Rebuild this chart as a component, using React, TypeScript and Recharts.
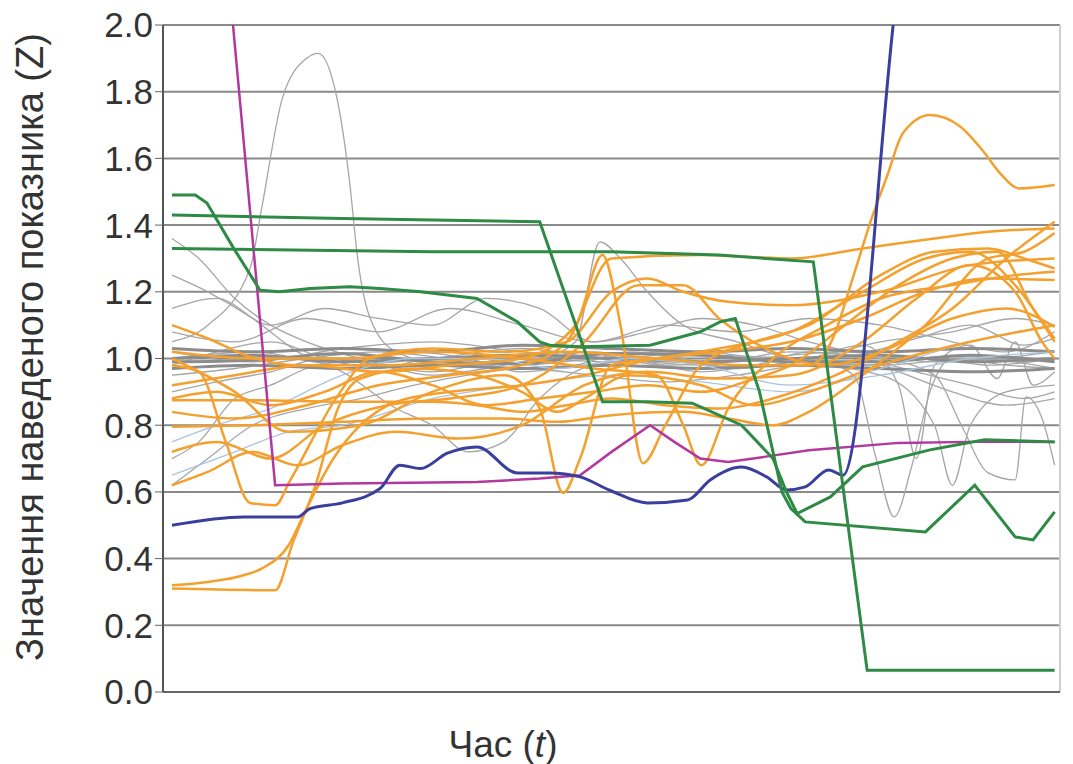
import { CartesianGrid, Label, Line, LineChart, ReferenceLine, XAxis, YAxis } from "recharts";

type Pt = [number, number];

// t is the time position (0..100 across the plot), z the reduced index value
const yTicks = [0, 0.2, 0.4, 0.6, 0.8, 1.0, 1.2, 1.4, 1.6, 1.8, 2.0];

const green1: Pt[] = [[1, 1.49], [3.6, 1.49], [4.9, 1.466], [7.8, 1.334], [10.8, 1.205], [13, 1.2], [16.4, 1.21], [20.8, 1.215], [24.2, 1.21], [28.7, 1.2], [35, 1.18], [39.5, 1.11], [42, 1.05], [43.1, 1.04], [46.5, 1.035], [54.3, 1.04], [59.9, 1.08], [62.1, 1.11], [63.8, 1.12], [66.5, 0.9], [69, 0.6], [70, 0.55], [71.6, 0.51], [85, 0.48], [90.5, 0.62], [95, 0.465], [97, 0.456], [99.4, 0.54]];
const green2: Pt[] = [[1, 1.43], [20, 1.42], [42, 1.41], [49, 0.87], [54, 0.87], [59, 0.866], [64.5, 0.8], [68, 0.7], [69.5, 0.6], [70.7, 0.535], [74.4, 0.585], [78, 0.675], [85.5, 0.726], [91.6, 0.756], [99.4, 0.75]];
const green3: Pt[] = [[1, 1.33], [30, 1.32], [50, 1.32], [62, 1.31], [72.5, 1.29], [78.5, 0.065], [99.4, 0.065]];
const blue: Pt[] = [[1, 0.5], [9, 0.525], [15, 0.525], [16.4, 0.55], [20, 0.567], [24.2, 0.61], [26.4, 0.68], [28.7, 0.67], [31.7, 0.716], [35, 0.735], [39.5, 0.657], [43.1, 0.657], [46.5, 0.645], [49.8, 0.605], [54, 0.567], [58.5, 0.576], [61, 0.636], [64.5, 0.675], [67.3, 0.645], [69.5, 0.606], [71.6, 0.615], [74.2, 0.666], [75.8, 0.65], [81.4, 2.0], [83, 2.4]];
const magenta: Pt[] = [[1, 4.0], [12.5, 0.62], [20, 0.625], [35, 0.63], [42, 0.64], [46.5, 0.65], [50, 0.72], [54.3, 0.8], [57, 0.75], [59.9, 0.7], [63, 0.69], [67, 0.705], [72, 0.725], [82, 0.747], [90, 0.75], [99.4, 0.75]];

const orange1: Pt[] = [[1, 0.32], [5, 0.33], [9, 0.35], [11, 0.37], [14, 0.44], [16, 0.55], [19, 0.7], [22, 0.8], [26, 0.87], [32, 0.9], [40, 0.92], [47, 0.95], [55, 1.0], [62, 1.02], [70, 1.05], [78, 1.12], [85, 1.2], [92, 1.24], [99.4, 1.235]];
const orange2: Pt[] = [[1, 0.31], [12.5, 0.305], [14.5, 0.45], [17, 0.62], [19.5, 0.85], [22, 0.94], [28, 0.97], [35, 0.95], [40, 0.9], [44, 0.84], [47, 0.88], [52, 0.95], [60, 0.92], [66, 0.86], [72, 0.9], [80, 0.98], [90, 1.05], [99.4, 1.1]];
const orange3: Pt[] = [[1, 0.98], [4, 0.96], [7, 0.75], [9.7, 0.567], [12.5, 0.56], [14.2, 0.636], [19.4, 0.885], [23, 1.0], [30, 1.03], [38, 1.02], [45, 1.05], [50, 1.2], [54, 1.24], [58, 1.2], [63, 1.17], [70, 1.16], [80, 1.2], [90, 1.28], [99.4, 1.3]];
const orange4: Pt[] = [[1, 1.1], [5, 1.06], [9.7, 1.005], [15, 0.98], [25, 0.98], [35, 1.0], [45, 1.02], [55, 1.0], [65, 0.98], [72, 0.98], [74.5, 1.05], [77, 1.25], [79, 1.42], [80.7, 1.545], [82.5, 1.676], [85.5, 1.73], [88.9, 1.695], [91.6, 1.616], [93.3, 1.556], [95.5, 1.51], [99.4, 1.52]];
const orange5: Pt[] = [[1, 0.875], [10, 0.875], [20, 0.87], [30, 0.87], [35, 0.86], [40, 0.84], [45, 0.86], [50, 0.88], [56, 0.86], [62, 0.85], [68, 0.88], [75, 0.95], [82, 1.05], [88, 1.15], [94, 1.3], [99.4, 1.41]];
const orange6: Pt[] = [[1, 0.795], [10, 0.8], [20, 0.81], [30, 0.82], [38, 0.82], [44, 0.81], [50, 0.83], [58, 0.84], [63, 0.82], [68, 0.8], [72, 0.84], [78, 0.95], [85, 1.1], [92, 1.3], [96, 1.32], [99.4, 1.376]];
const orange7: Pt[] = [[1, 1.0], [8, 0.9], [14, 0.78], [22, 0.8], [30, 0.9], [38, 0.95], [42, 0.85], [44.6, 0.597], [46.5, 0.7], [50, 0.98], [55, 1.0], [62, 1.03], [70, 1.08], [78, 1.2], [85, 1.3], [90, 1.32], [95, 1.22], [99.4, 1.05]];
const orange8: Pt[] = [[1, 0.92], [8, 0.95], [16, 0.98], [24, 0.96], [32, 0.98], [40, 1.0], [46, 1.1], [49, 1.31], [51, 1.1], [53.5, 0.686], [56, 0.8], [60, 0.98], [66, 1.05], [72, 1.1], [80, 1.25], [86, 1.32], [92, 1.33], [96, 1.3], [99.4, 1.27]];
const orange9: Pt[] = [[1, 0.84], [8, 0.82], [16, 0.86], [24, 0.92], [32, 0.95], [40, 0.98], [45, 1.05], [50, 1.3], [60, 1.31], [70, 1.3], [78, 1.33], [86, 1.36], [92, 1.38], [99.4, 1.39]];
const orange10: Pt[] = [[1, 0.72], [6, 0.75], [12, 0.7], [18, 0.8], [25, 0.86], [32, 0.88], [40, 0.92], [47, 1.05], [53, 1.22], [58, 1.22], [62, 1.12], [68, 1.02], [74, 0.98], [80, 1.02], [88, 1.12], [94, 1.15], [99.4, 1.095]];
const orange11: Pt[] = [[1, 0.62], [5, 0.66], [10, 0.72], [15, 0.68], [20, 0.74], [26, 0.78], [33, 0.76], [40, 0.8], [47, 0.92], [54, 0.96], [62, 0.94], [70, 0.95], [78, 1.05], [84, 1.18], [90, 1.28], [95, 1.2], [98, 1.05], [99.4, 1.0]];
const orange12: Pt[] = [[1, 1.02], [10, 1.0], [20, 1.0], [30, 1.02], [40, 1.0], [48, 0.97], [55, 0.95], [58, 0.8], [60, 0.68], [63, 0.85], [68, 1.0], [74, 1.1], [80, 1.18], [88, 1.22], [95, 1.25], [99.4, 1.26]];
const orange13: Pt[] = [[1, 0.88], [6, 0.9], [12, 0.86], [18, 0.9], [24, 0.96], [30, 0.92], [36, 0.86], [42, 0.88], [48, 0.9], [54, 0.92], [60, 0.9], [66, 0.94], [70, 0.98], [76, 1.1], [82, 1.22], [88, 1.3], [93, 1.32], [97, 1.15], [99.4, 1.06]];

const gray1: Pt[] = [[1, 1.05], [5, 1.1], [9.7, 1.27], [11, 1.45], [13.3, 1.78], [16, 1.9], [17.3, 1.915], [19.4, 1.78], [20.8, 1.53], [21.7, 1.3], [23.1, 1.12], [26, 1.02], [32, 0.98], [40, 1.0], [50, 0.99], [60, 1.01], [70, 1.0], [80, 0.98], [90, 1.0], [99.4, 0.97]];
const gray2: Pt[] = [[1, 0.98], [6, 1.02], [12, 1.05], [18, 1.0], [24, 0.97], [30, 1.0], [36, 0.98], [42, 1.0], [46, 1.05], [48.7, 1.35], [51, 1.3], [54, 1.2], [58, 1.1], [64, 1.05], [70, 1.0], [78, 0.98], [86, 1.0], [92, 0.98], [99.4, 1.0]];
const gray3: Pt[] = [[1, 1.36], [4, 1.3], [8, 1.18], [12, 1.1], [16, 1.05], [22, 1.0], [30, 0.96], [38, 1.0], [46, 1.02], [56, 0.98], [66, 1.0], [76, 1.02], [86, 0.99], [99.4, 1.02]];
const gray4: Pt[] = [[1, 1.25], [5, 1.2], [10, 1.12], [15, 1.02], [20, 0.96], [26, 0.85], [30, 0.8], [34, 0.72], [38, 0.75], [42, 0.88], [48, 0.98], [56, 1.0], [64, 0.97], [72, 1.0], [80, 1.05], [88, 1.08], [95, 1.12], [99.4, 1.1]];
const gray5: Pt[] = [[1, 0.95], [8, 0.97], [16, 1.0], [24, 1.02], [32, 1.0], [40, 0.98], [48, 1.0], [56, 1.02], [64, 1.0], [72, 1.0], [77, 0.95], [79.5, 0.7], [81.5, 0.525], [83.5, 0.68], [85.5, 0.9], [88, 1.0], [94, 0.98], [99.4, 0.97]];
const gray6: Pt[] = [[1, 1.02], [10, 0.99], [20, 1.03], [30, 1.05], [40, 1.02], [50, 1.0], [60, 0.98], [70, 1.02], [80, 1.0], [86, 0.95], [89, 0.8], [92, 0.657], [95, 0.636], [96.2, 0.885], [98, 0.82], [99.4, 0.68]];
const gray7: Pt[] = [[1, 1.15], [6, 1.18], [12, 1.1], [18, 1.15], [24, 1.12], [30, 1.1], [36, 1.18], [42, 1.15], [48, 1.05], [54, 1.08], [60, 1.12], [66, 1.1], [72, 1.05], [78, 1.02], [84, 1.06], [90, 1.1], [96, 1.04], [99.4, 1.06]];
const gray8: Pt[] = [[1, 0.9], [6, 0.93], [12, 0.96], [18, 1.0], [24, 0.98], [30, 0.95], [36, 0.97], [42, 1.0], [48, 1.02], [54, 0.99], [60, 0.96], [66, 0.98], [72, 1.02], [78, 1.0], [84, 0.96], [90, 0.92], [96, 0.88], [99.4, 0.9]];
const gray9: Pt[] = [[1, 0.7], [4, 0.75], [8, 0.88], [12, 0.92], [16, 0.97], [22, 1.0], [28, 1.02], [34, 1.0], [40, 0.96], [46, 0.98], [52, 1.02], [58, 1.0], [64, 0.97], [70, 0.99], [76, 1.01], [82, 0.96], [88, 0.9], [94, 0.86], [99.4, 0.88]];
const gray10: Pt[] = [[1, 1.0], [10, 1.02], [20, 0.98], [30, 1.0], [40, 1.03], [50, 1.0], [60, 1.02], [70, 0.99], [78, 1.04], [82, 0.92], [84, 0.7], [86, 0.98], [90, 1.04], [93, 0.94], [95, 1.05], [97, 0.92], [99.4, 0.96]];
const gray11: Pt[] = [[1, 1.08], [8, 1.05], [16, 1.12], [24, 1.08], [32, 1.15], [40, 1.1], [48, 1.05], [56, 1.1], [64, 1.08], [72, 1.12], [80, 1.1], [88, 1.05], [94, 1.02], [99.4, 1.08]];
const gray12: Pt[] = [[1, 0.62], [5, 0.7], [10, 0.8], [16, 0.85], [22, 0.88], [28, 0.92], [34, 0.95], [40, 0.97], [48, 0.95], [56, 0.93], [64, 0.95], [72, 0.98], [80, 0.95], [86, 0.8], [88, 0.62], [90, 0.8], [94, 0.9], [99.4, 0.92]];
const grayBand1: Pt[] = [[1, 1.0], [10, 1.01], [20, 0.99], [30, 1.0], [40, 1.01], [50, 1.0], [60, 0.99], [70, 1.0], [80, 1.01], [90, 0.99], [99.4, 1.0]];
const grayBand2: Pt[] = [[1, 0.97], [10, 0.98], [20, 0.97], [30, 0.98], [40, 0.97], [50, 0.98], [60, 0.97], [70, 0.98], [80, 0.97], [90, 0.96], [99.4, 0.97]];
const grayBand3: Pt[] = [[1, 1.03], [10, 1.02], [20, 1.03], [30, 1.02], [40, 1.04], [50, 1.03], [60, 1.02], [70, 1.03], [80, 1.02], [90, 1.03], [99.4, 1.02]];
const grayBand4: Pt[] = [[1, 0.99], [10, 0.995], [20, 1.015], [30, 0.99], [40, 0.985], [50, 1.015], [60, 1.01], [70, 0.99], [80, 0.99], [90, 1.01], [99.4, 0.99]];
const lightBlue1: Pt[] = [[1, 0.75], [6, 0.8], [12, 0.85], [20, 0.95], [28, 1.0], [36, 1.0], [44, 0.97], [52, 1.0], [60, 0.98], [70, 0.92], [80, 0.95], [90, 1.0], [99.4, 1.02]];
const lightBlue2: Pt[] = [[1, 0.65], [8, 0.72], [14, 0.78], [20, 0.8], [30, 0.88], [40, 0.92], [50, 0.95], [60, 0.93], [70, 0.9], [80, 0.97], [90, 1.05], [99.4, 1.1]];

const GRAY = "#a6a6a6";
const BAND = "#8c8c8c";
const LBLUE = "#a9c4e0";
const ORANGE = "#f4a02e";
const GREEN = "#2e8a45";
const BLUE = "#3a3f9e";
const MAGENTA = "#b2389e";

type S = { pts: Pt[]; color: string; w: number; curve: "monotone" | "linear" };

const series: S[] = [
  ...[gray1, gray2, gray3, gray4, gray5, gray6, gray7, gray8, gray9, gray10, gray11, gray12].map(
    (pts) => ({ pts, color: GRAY, w: 1.3, curve: "monotone" as const })
  ),
  ...[grayBand1, grayBand2, grayBand3, grayBand4].map((pts) => ({ pts, color: BAND, w: 3, curve: "monotone" as const })),
  ...[lightBlue1, lightBlue2].map((pts) => ({ pts, color: LBLUE, w: 1.3, curve: "monotone" as const })),
  ...[orange1, orange2, orange3, orange4, orange5, orange6, orange7, orange8, orange9, orange10, orange11, orange12, orange13].map(
    (pts) => ({ pts, color: ORANGE, w: 2.5, curve: "monotone" as const })
  ),
  { pts: magenta, color: MAGENTA, w: 2.5, curve: "linear" },
  { pts: blue, color: BLUE, w: 3, curve: "monotone" },
  { pts: green1, color: GREEN, w: 3, curve: "linear" },
  { pts: green2, color: GREEN, w: 3, curve: "linear" },
  { pts: green3, color: GREEN, w: 3, curve: "linear" },
];

const SANS = "'Liberation Sans', Arial, sans-serif";

export default function App() {
  return (
    <div style={{ position: "absolute", left: 0, top: 0, width: 1073, height: 764, background: "#fff" }}>
      <LineChart width={1073} height={764} margin={{ top: 25, right: 13, bottom: 0, left: 0 }}>
        <CartesianGrid vertical={false} stroke="#8a8a8a" strokeWidth={2} />
        <XAxis
          type="number"
          dataKey="t"
          domain={[0, 100]}
          tick={false}
          tickLine={false}
          height={72}
          axisLine={{ stroke: "#666", strokeWidth: 2 }}
        >
          <Label
            content={() => (
              <text x={503} y={757} textAnchor="middle" fontFamily={SANS} fontSize={37} fill="#333">
                Час (<tspan fontStyle="italic">t</tspan>)
              </text>
            )}
          />
        </XAxis>
        <YAxis
          type="number"
          dataKey="z"
          domain={[0, 2]}
          ticks={yTicks}
          allowDataOverflow
          width={163}
          tickSize={8}
          tickFormatter={(v: number) => v.toFixed(1)}
          tick={{ fontFamily: SANS, fontSize: 35, fill: "#333" }}
          tickLine={{ stroke: "#666" }}
          axisLine={{ stroke: "#555", strokeWidth: 2 }}
        >
          <Label
            content={() => (
              <text
                x={30}
                y={347}
                transform="rotate(-90 30 347)"
                textAnchor="middle"
                dominantBaseline="central"
                fontFamily={SANS}
                fontSize={38}
                fill="#333"
              >
                Значення наведеного показника (Z)
              </text>
            )}
          />
        </YAxis>
        <ReferenceLine x={100} stroke="#d0d0d0" strokeWidth={2} />
        {series.map((s, i) => (
          <Line
            key={i}
            data={s.pts.map(([t, z]) => ({ t, z }))}
            dataKey="z"
            type={s.curve}
            stroke={s.color}
            strokeWidth={s.w}
            dot={false}
            activeDot={false}
            isAnimationActive={false}
          />
        ))}
      </LineChart>
    </div>
  );
}
